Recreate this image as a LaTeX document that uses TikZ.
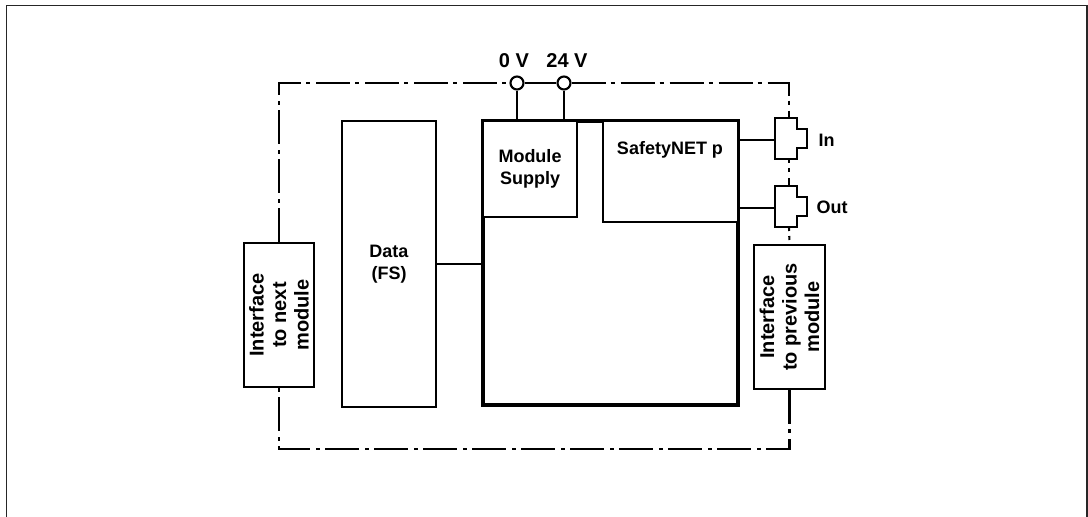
\documentclass[tikz,border=0pt]{standalone}
\usepackage{fontspec}
\setmainfont{Liberation Sans}
\usetikzlibrary{calc}

\begin{document}
\begin{tikzpicture}[x=1pt,y=-1pt,line join=miter,
                    every node/.style={font=\fontsize{18}{22}\selectfont\bfseries}]
  \tikzstyle{wire}=[line width=2.1pt]
  \tikzstyle{dashdot}=[line width=2.1pt,dash pattern=on 34pt off 5pt on 4pt off 6pt]
  \tikzstyle{box}=[draw,wire,fill=white,rectangle,inner sep=0pt,align=center]
  \tikzstyle{term}=[circle,draw,wire,fill=white,minimum size=13pt,inner sep=0pt]
  \tikzstyle{big}=[font=\fontsize{20}{22.5}\selectfont\bfseries]
  \tikzset{plug/.pic={
      \draw[wire] (0,0) -- (22,0) -- (22,11) -- (32,11) -- (32,30) -- (22,30)
                  -- (22,41) -- (0,41) -- cycle;
      \coordinate (-top) at (14,0);
      \coordinate (-bot) at (14,41);
      \coordinate (-w)   at (0,22);}}

  \useasboundingbox (0,0) rectangle (1088,517);
  \draw[line width=1.5pt,black!85] (6.5,517) |- (1087,5.5) -- (1087,517);

  \node[box,line width=3.4pt,minimum width=255pt,minimum height=284pt] (main) at (610.5,263) {};
  \node[box,minimum width=94pt,minimum height=96pt] (supply) at (530,169) {Module\\Supply};
  \node[box,minimum width=135pt,minimum height=101pt] (safety) at (670.5,171.5) {};
  \node (safetytxt) at (670,150) {SafetyNET p};
  \node[box,minimum width=94pt,minimum height=286pt] (data) at (389,264) {Data\\(FS)};
  % rotated boxes: east is the top, west the bottom
  \node[box,big,rotate=90,minimum width=144pt,minimum height=70pt] (next) at (279,315) {Interface\\to next\\module};
  \node[box,big,rotate=90,minimum width=144pt,minimum height=71pt] (prev) at (789.5,317) {Interface\\to previous\\module};

  \node[term,label={[big,label distance=4pt,xshift=-3pt]above:0 V}] (v0) at (517,83) {};
  \node[term,label={[big,label distance=4pt,xshift=3pt]above:24 V}] (v24) at (564,83) {};

  \pic (inp) at (775,118) {plug};
  \pic (outp) at (775,186) {plug};
  \node[anchor=west] (inlbl) at (815,140) {In};
  \node[anchor=west] (outlbl) at (813,207) {Out};

  \draw[wire] (data.east) -- (main.west |- data.east)
              (v0.south) -- (v0.south |- main.north)
              (v24.south) -- (v24.south |- main.north)
              (safety.east |- inp-w) -- (inp-w)
              (safety.east |- outp-w) -- (outp-w)
              (v0.east) -- (v24.west);

  \draw[dashdot] (next.east) |- (v0.west);
  \draw[dashdot] (v24.east) -| (inp-top);
  \draw[dashdot,dash phase=30pt] (inp-bot) -- (outp-top);
  \draw[dashdot,dash phase=30pt] (outp-bot) -- (prev.east);
  \draw[dashdot] (prev.west) -- ++(0,59) -| (next.west);
\end{tikzpicture}
\end{document}
